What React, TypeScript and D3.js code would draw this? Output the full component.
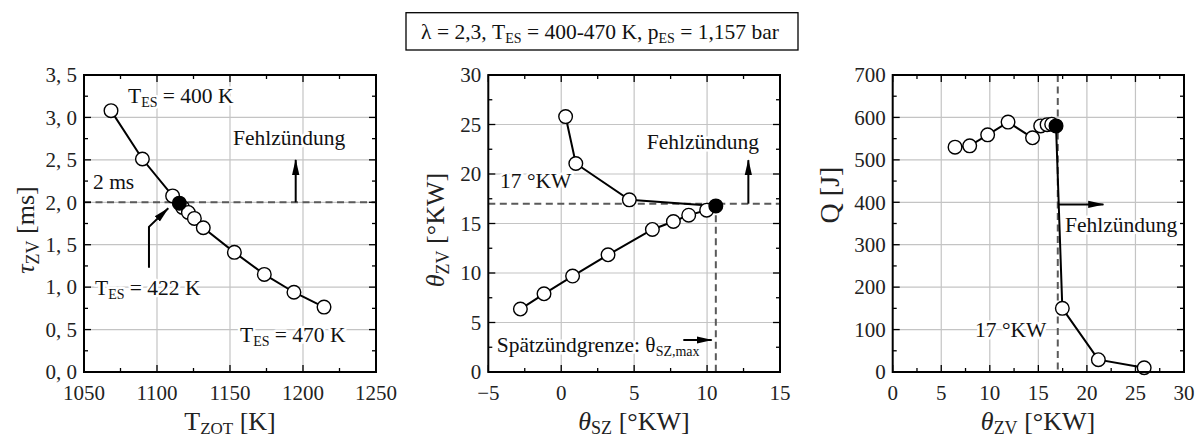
import React from 'react';
import * as d3 from 'd3';

// ---------- Data ----------
// Panel 1: tau_ZV vs T_ZOT
const tZot = [1068.5, 1090, 1110.7, 1117.5, 1121.5, 1125.6, 1131.7, 1153, 1173.5, 1193.8, 1214.4];
const tauZv = [3.08, 2.51, 2.075, 1.94, 1.88, 1.81, 1.7, 1.41, 1.15, 0.94, 0.765];
const tZotMark = 1115.3;
const tauMark = 1.99;
const tauLimit = 2.0;

// Panel 2: theta_ZV vs theta_SZ
const thetaSzUpper = [0.3, 1.0, 4.67];
const thetaZvUpper = [25.8, 21.06, 17.39];
const thetaSzLower = [9.97, 8.74, 7.69, 6.25, 3.21, 0.78, -1.18, -2.8];
const thetaZvLower = [16.35, 15.84, 15.2, 14.4, 11.84, 9.69, 7.9, 6.36];
const thetaSzMark = 10.6;
const thetaZvMark = 16.78;
const thetaZvLimit = 17;

// Panel 3: Q vs theta_ZV
const thetaZvQ = [6.42, 7.93, 9.78, 11.88, 14.4, 15.24, 15.9, 16.37, 17.47, 21.18, 25.9];
const qValues = [530, 533, 559, 589, 552, 580, 583, 584, 150, 29, 10];
const thetaZvQMark = 16.82;
const qMark = 580;

// Tick definitions
const p1XTicks = [1050, 1100, 1150, 1200, 1250];
const p1YTicks = [0, 0.5, 1, 1.5, 2, 2.5, 3, 3.5];
const p2XTicks = [-5, 0, 5, 10, 15];
const p2YTicks = [0, 5, 10, 15, 20, 25, 30];
const p3XTicks = [0, 5, 10, 15, 20, 25, 30];
const p3YTicks = [0, 100, 200, 300, 400, 500, 600, 700];

const FONT = '"Liberation Serif", "Times New Roman", serif';
const TICK_FS = 21;
const LABEL_FS = 26;
const ANN_FS = 21.5;
const SUB_FS = 14;
const GRID = '#c4c4c4';
const DASH = '#5a5a5a';

type Scale = d3.ScaleLinear<number, number>;

function Frame({ x, y, xTicks, yTicks, xFmt, yFmt }: {
  x: Scale; y: Scale; xTicks: number[]; yTicks: number[];
  xFmt: (v: number) => string; yFmt: (v: number) => string;
}) {
  const [x0, x1] = x.range();
  const [y0, y1] = y.range(); // y0 bottom, y1 top
  const xMinor: number[] = [];
  for (let i = 0; i < xTicks.length - 1; i++) xMinor.push((xTicks[i] + xTicks[i + 1]) / 2);
  const yMinor: number[] = [];
  for (let i = 0; i < yTicks.length - 1; i++) yMinor.push((yTicks[i] + yTicks[i + 1]) / 2);
  const MAJ = 7, MIN = 4;
  return (
    <g>
      <g stroke="#000" strokeWidth={1.3}>
        {xTicks.map((t) => (
          <g key={'xt' + t}>
            <line x1={x(t)} x2={x(t)} y1={y0} y2={y0 - MAJ} />
            <line x1={x(t)} x2={x(t)} y1={y1} y2={y1 + MAJ} />
          </g>
        ))}
        {xMinor.map((t) => (
          <g key={'xm' + t}>
            <line x1={x(t)} x2={x(t)} y1={y0} y2={y0 - MIN} />
            <line x1={x(t)} x2={x(t)} y1={y1} y2={y1 + MIN} />
          </g>
        ))}
        {yTicks.map((t) => (
          <g key={'yt' + t}>
            <line x1={x0} x2={x0 + MAJ} y1={y(t)} y2={y(t)} />
            <line x1={x1} x2={x1 - MAJ} y1={y(t)} y2={y(t)} />
          </g>
        ))}
        {yMinor.map((t) => (
          <g key={'ym' + t}>
            <line x1={x0} x2={x0 + MIN} y1={y(t)} y2={y(t)} />
            <line x1={x1} x2={x1 - MIN} y1={y(t)} y2={y(t)} />
          </g>
        ))}
      </g>
      <rect x={x0} y={y1} width={x1 - x0} height={y0 - y1} fill="none" stroke="#000" strokeWidth={2} />
      <g fontFamily={FONT} fontSize={TICK_FS} fill="#222">
        {xTicks.map((t) => (
          <text key={'xl' + t} x={x(t)} y={400} textAnchor="middle">{xFmt(t)}</text>
        ))}
        {yTicks.map((t) => (
          <text key={'yl' + t} x={x0 - 7} y={y(t)} dy="0.35em" textAnchor="end">{yFmt(t)}</text>
        ))}
      </g>
    </g>
  );
}

function Grid({ x, y, xTicks, yTicks }: { x: Scale; y: Scale; xTicks: number[]; yTicks: number[] }) {
  const [x0, x1] = x.range();
  const [y0, y1] = y.range();
  return (
    <g stroke={GRID} strokeWidth={1.2}>
      {xTicks.slice(1, -1).map((t) => (
        <line key={'gx' + t} x1={x(t)} x2={x(t)} y1={y0} y2={y1} />
      ))}
      {yTicks.slice(1, -1).map((t) => (
        <line key={'gy' + t} x1={x0} x2={x1} y1={y(t)} y2={y(t)} />
      ))}
    </g>
  );
}

const R = 6.8;
function Markers({ pts }: { pts: [number, number][] }) {
  return (
    <g>
      {pts.map((p, i) => (
        <circle key={i} cx={p[0]} cy={p[1]} r={R} fill="#fff" stroke="#000" strokeWidth={1.4} />
      ))}
    </g>
  );
}

const halo = { paintOrder: 'stroke', stroke: '#fff', strokeWidth: 5, strokeLinejoin: 'round' as const };

function Sub({ x, y, main, sub, rest, fs = ANN_FS, anchor = 'start' }: {
  x: number; y: number; main: string; sub: string; rest: string; fs?: number; anchor?: string;
}) {
  return (
    <text x={x} y={y} fontFamily={FONT} fontSize={fs} textAnchor={anchor as any} style={halo} fill="#111">
      {main}
      <tspan dy={4} fontSize={SUB_FS}>{sub}</tspan>
      <tspan dy={-4}>{rest}</tspan>
    </text>
  );
}

export default function App() {
  // Scales
  const x1 = d3.scaleLinear().domain([1050, 1250]).range([84, 376]);
  const y1 = d3.scaleLinear().domain([0, 3.5]).range([372, 75]);
  const x2 = d3.scaleLinear().domain([-5, 15]).range([488.3, 780]);
  const y2 = d3.scaleLinear().domain([0, 30]).range([372, 75]);
  const x3 = d3.scaleLinear().domain([0, 30]).range([892.7, 1184]);
  const y3 = d3.scaleLinear().domain([0, 700]).range([372, 75]);

  const line = d3.line<[number, number]>().x((d) => d[0]).y((d) => d[1]);

  const p1pts: [number, number][] = tZot.map((t, i) => [x1(t), y1(tauZv[i])]);
  const p2upper: [number, number][] = thetaSzUpper.map((t, i) => [x2(t), y2(thetaZvUpper[i])]);
  const p2lower: [number, number][] = thetaSzLower.map((t, i) => [x2(t), y2(thetaZvLower[i])]);
  const p2mark: [number, number] = [x2(thetaSzMark), y2(thetaZvMark)];
  const p2path = [...p2upper, p2mark, ...p2lower];
  const p3pts: [number, number][] = thetaZvQ.map((t, i) => [x3(t), y3(qValues[i])]);
  const p3path: [number, number][] = [...p3pts.slice(0, 8), [x3(thetaZvQMark), y3(qMark)], ...p3pts.slice(8)];

  const fmtComma = (v: number) => v.toFixed(1).replace('.', ', ');
  const fmtInt = (v: number) => (v < 0 ? '\u2212' + Math.abs(v) : String(v));

  return (
    <svg width={1203} height={440} style={{ position: 'absolute', left: 0, top: 0, background: '#fff' }}>
      <defs>
        <marker id="ah" viewBox="0 0 10 10" refX={9.5} refY={5} markerWidth={8} markerHeight={8} orient="auto" markerUnits="strokeWidth">
          <path d="M0,2.7 L10,5 L0,7.3 Z" fill="#000" />
        </marker>
      </defs>
      <rect width={1203} height={440} fill="#fff" />

      {/* Title box */}
      <rect x={406} y={12.7} width={392} height={37.3} fill="#fff" stroke="#000" strokeWidth={1.3} />
      <text x={600} y={39} textAnchor="middle" fontFamily={FONT} fontSize={21.5} fill="#111">
        λ = 2,3, T<tspan dy={4} fontSize={14}>ES</tspan><tspan dy={-4}> = 400-470 K, p</tspan>
        <tspan dy={4} fontSize={14}>ES</tspan><tspan dy={-4}> = 1,157 bar</tspan>
      </text>

      {/* ---------------- Panel 1 ---------------- */}
      <Grid x={x1} y={y1} xTicks={p1XTicks} yTicks={p1YTicks} />
      <line x1={84} x2={376} y1={y1(tauLimit)} y2={y1(tauLimit)} stroke={DASH} strokeWidth={2} strokeDasharray="7,4.5" />
      <Sub x={128} y={103} main="T" sub="ES" rest=" = 400 K" />
      <text x={233} y={145} fontFamily={FONT} fontSize={ANN_FS} style={halo} fill="#111">Fehlzündung</text>
      <line x1={x1(1195)} x2={x1(1195)} y1={y1(tauLimit)} y2={y1(2.5)} stroke="#000" strokeWidth={2} markerEnd="url(#ah)" />
      <text x={93} y={189} fontFamily={FONT} fontSize={ANN_FS} style={halo} fill="#111">2 ms</text>
      <Sub x={95} y={295} main="T" sub="ES" rest=" = 422 K" />
      <Sub x={240} y={342} main="T" sub="ES" rest=" = 470 K" />
      <path d={line([[x1(1094.5), y1(1.23)], [x1(1094.5), y1(1.71)], [x1(1107.7), y1(1.93)]]) || ''} fill="none" stroke="#000" strokeWidth={2} markerEnd="url(#ah)" />
      <path d={line(p1pts) || ''} fill="none" stroke="#000" strokeWidth={2} />
      <Markers pts={p1pts} />
      <circle cx={x1(tZotMark)} cy={y1(tauMark)} r={R} fill="#000" stroke="#000" strokeWidth={1.4} />
      <Frame x={x1} y={y1} xTicks={p1XTicks} yTicks={p1YTicks} xFmt={(v) => String(v)} yFmt={fmtComma} />
      <text transform="translate(34,230) rotate(-90)" textAnchor="middle" fontFamily={FONT} fontSize={LABEL_FS} fill="#222">
        <tspan fontStyle="italic">τ</tspan><tspan dy={5} fontSize={18}>ZV</tspan><tspan dy={-5}> [ms]</tspan>
      </text>
      <text x={230} y={430} textAnchor="middle" fontFamily={FONT} fontSize={LABEL_FS} fill="#222">
        T<tspan dy={4} fontSize={17}>ZOT</tspan><tspan dy={-4}> [K]</tspan>
      </text>

      {/* ---------------- Panel 2 ---------------- */}
      <Grid x={x2} y={y2} xTicks={p2XTicks} yTicks={p2YTicks} />
      <line x1={488.3} x2={780} y1={y2(thetaZvLimit)} y2={y2(thetaZvLimit)} stroke={DASH} strokeWidth={2} strokeDasharray="7,4.5" />
      <line x1={x2(thetaSzMark)} x2={x2(thetaSzMark)} y1={y2(thetaZvLimit)} y2={372} stroke={DASH} strokeWidth={2} strokeDasharray="7,4.5" />
      <text x={646.7} y={149} fontFamily={FONT} fontSize={ANN_FS} style={halo} fill="#111">Fehlzündung</text>
      <line x1={x2(12.83)} x2={x2(12.83)} y1={y2(thetaZvLimit)} y2={y2(21.4)} stroke="#000" strokeWidth={2} markerEnd="url(#ah)" />
      <text x={500} y={188} fontFamily={FONT} fontSize={ANN_FS} style={halo} fill="#111">17 °KW</text>
      <text x={496.7} y={351.7} fontFamily={FONT} fontSize={ANN_FS} style={halo} fill="#111">
        Spätzündgrenze: θ<tspan dy={4} fontSize={SUB_FS}>SZ,max</tspan>
      </text>
      <line x1={x2(8.37)} x2={x2(10.32)} y1={y2(3.23)} y2={y2(3.23)} stroke="#000" strokeWidth={2} markerEnd="url(#ah)" />
      <path d={line(p2path) || ''} fill="none" stroke="#000" strokeWidth={2} />
      <Markers pts={[...p2upper, ...p2lower]} />
      <circle cx={p2mark[0]} cy={p2mark[1]} r={R} fill="#000" stroke="#000" strokeWidth={1.4} />
      <Frame x={x2} y={y2} xTicks={p2XTicks} yTicks={p2YTicks} xFmt={fmtInt} yFmt={fmtInt} />
      <text transform="translate(444,230) rotate(-90)" textAnchor="middle" fontFamily={FONT} fontSize={LABEL_FS} fill="#222">
        <tspan fontStyle="italic">θ</tspan><tspan dy={5} fontSize={18}>ZV</tspan><tspan dy={-5}> [°KW]</tspan>
      </text>
      <text x={634} y={430} textAnchor="middle" fontFamily={FONT} fontSize={LABEL_FS} fill="#222">
        <tspan fontStyle="italic">θ</tspan><tspan dy={4} fontSize={18}>SZ</tspan><tspan dy={-4}> [°KW]</tspan>
      </text>

      {/* ---------------- Panel 3 ---------------- */}
      <Grid x={x3} y={y3} xTicks={p3XTicks} yTicks={p3YTicks} />
      <line x1={x3(thetaZvLimit)} x2={x3(thetaZvLimit)} y1={75} y2={372} stroke={DASH} strokeWidth={2} strokeDasharray="7,4.5" />
      <line x1={x3(17.05)} x2={x3(21.7)} y1={y3(395)} y2={y3(395)} stroke="#000" strokeWidth={2} markerEnd="url(#ah)" />
      <text x={1065} y={231.7} fontFamily={FONT} fontSize={ANN_FS} style={halo} fill="#111">Fehlzündung</text>
      <text x={975} y={336.7} fontFamily={FONT} fontSize={ANN_FS} style={halo} fill="#111">17 °KW</text>
      <path d={line(p3path) || ''} fill="none" stroke="#000" strokeWidth={2} />
      <Markers pts={p3pts} />
      <circle cx={x3(thetaZvQMark)} cy={y3(qMark)} r={R} fill="#000" stroke="#000" strokeWidth={1.4} />
      <Frame x={x3} y={y3} xTicks={p3XTicks} yTicks={p3YTicks} xFmt={fmtInt} yFmt={fmtInt} />
      <text transform="translate(839,195) rotate(-90)" textAnchor="middle" fontFamily={FONT} fontSize={28} fill="#222">
        Q [J]
      </text>
      <text x={1038} y={430} textAnchor="middle" fontFamily={FONT} fontSize={LABEL_FS} fill="#222">
        <tspan fontStyle="italic">θ</tspan><tspan dy={4} fontSize={18}>ZV</tspan><tspan dy={-4}> [°KW]</tspan>
      </text>
    </svg>
  );
}
